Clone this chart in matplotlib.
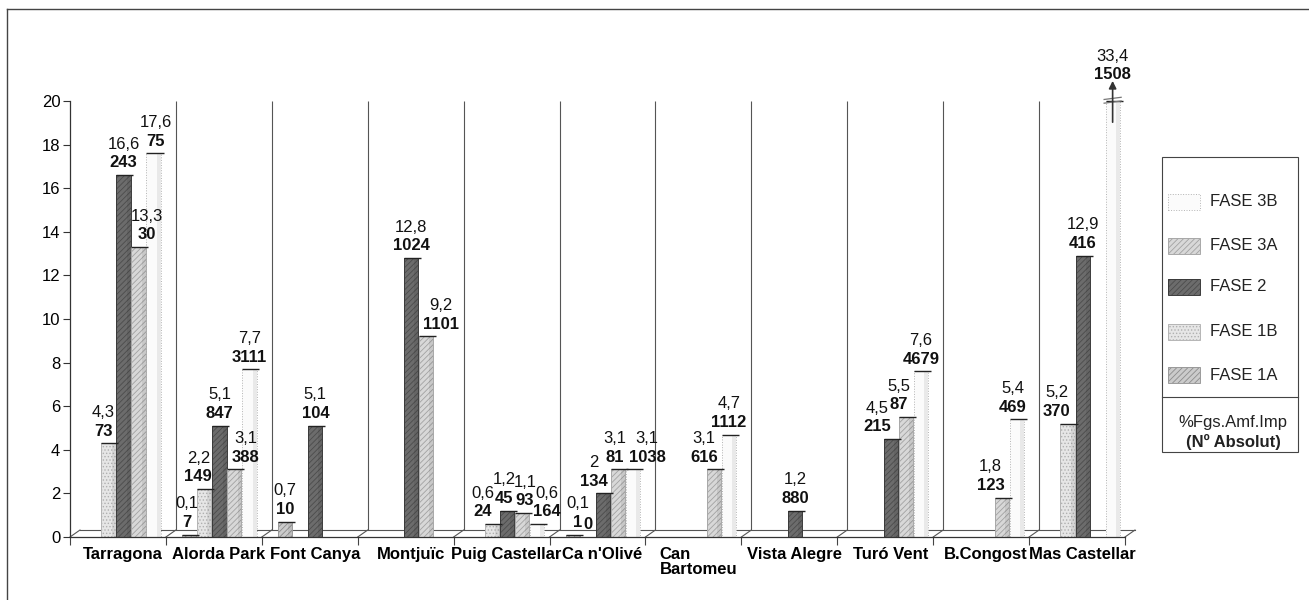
import matplotlib.pyplot as plt
from matplotlib.patches import Rectangle
from matplotlib.lines import Line2D

plt.rcParams['font.family'] = ['Liberation Sans', 'DejaVu Sans']
plt.rcParams['hatch.linewidth'] = 0.6

# Jaciments i fases
jaciments = ['Tarragona', 'Alorda Park', 'Font Canya', 'Montjuïc', 'Puig Castellar',
             "Ca n'Olivé", 'Can\nBartomeu', 'Vista Alegre', 'Turó Vent', 'B.Congost',
             'Mas Castellar']
fases = ['FASE 1A', 'FASE 1B', 'FASE 2', 'FASE 3A', 'FASE 3B']

# % de fragments d'àmfora importada (None = sense dades)
pct_1a = [None, 0.1, 0.7, None, None, 0.1, None, None, None, None, None]
pct_1b = [4.3, 2.2, None, None, 0.6, 0, None, None, None, None, 5.2]
pct_2 = [16.6, 5.1, 5.1, 12.8, 1.2, 2, None, 1.2, 4.5, None, 12.9]
pct_3a = [13.3, 3.1, None, 9.2, 1.1, 3.1, 3.1, None, 5.5, 1.8, None]
pct_3b = [17.6, 7.7, None, None, 0.6, 3.1, 4.7, None, 7.6, 5.4, 33.4]

# nombre absolut
abs_1a = [None, 7, 10, None, None, 1, None, None, None, None, None]
abs_1b = [73, 149, None, None, 24, 0, None, None, None, None, 370]
abs_2 = [243, 847, 104, 1024, 45, 134, None, 880, 215, None, 416]
abs_3a = [30, 388, None, 1101, 93, 81, 616, None, 87, 123, None]
abs_3b = [75, 3111, None, None, 164, 1038, 1112, None, 4679, 469, 1508]

pcts = [pct_1a, pct_1b, pct_2, pct_3a, pct_3b]
absols = [abs_1a, abs_1b, abs_2, abs_3a, abs_3b]

# desplaçament horitzontal (px) d'algunes etiquetes, (jaciment, fase)
despl = {(0, 1): -5, (0, 3): 8, (0, 4): 2,
         (1, 0): -3, (1, 1): -6, (1, 3): 11,
         (3, 3): 15,
         (4, 1): -9, (4, 2): -3, (4, 3): 3, (4, 4): 10,
         (5, 0): 5, (5, 2): -9, (5, 3): -3, (5, 4): 14,
         (6, 3): -10,
         (8, 2): -14, (8, 3): -7,
         (9, 3): -11, (9, 4): -4,
         (10, 1): -11}

estils = {
    'FASE 1A': dict(fc='#cbcbcb', hatch='//////', hc='#8c8c8c', ec='#9a9a9a', ls='-'),
    'FASE 1B': dict(fc='#e6e6e6', hatch='.....', hc='#b0b0b0', ec='#b5b5b5', ls='-'),
    'FASE 2': dict(fc='#6c6c6c', hatch='//////', hc='#4c4c4c', ec='#3a3a3a', ls='-'),
    'FASE 3A': dict(fc='#d8d8d8', hatch='//////', hc='#a2a2a2', ec='#a8a8a8', ls='-'),
    'FASE 3B': dict(fc='#fbfbfb', hatch='', hc='#c8c8c8', ec='#b4b4b4', ls=':'),
}

W, H = 1309, 600
YMAX = 20
centres = [0.245, 0.401, 0.558, 0.714, 0.871]
amplada = 0.148
dx, dy = 0.104, 0.32   # fons del terra en perspectiva


def fx(px):
    return px / W


def fy(py):
    return 1 - py / H


def fmt(v):
    return f'{v:g}'.replace('.', ',')


fig = plt.figure(figsize=(W / 100, H / 100), dpi=100)
ax = fig.add_axes([fx(70), fy(537), fx(1125) - fx(70), fy(101) - fy(537)])
ax.set_xlim(0, 11)
ax.set_ylim(0, YMAX)

# terra i parets
n = len(jaciments)
ax.plot([dx, n + dx], [dy, dy], color='#555', lw=0.8, zorder=1, clip_on=False)
for k in range(n + 1):
    ax.plot([k, k + dx], [0, dy], color='#555', lw=0.8, zorder=1, clip_on=False)
ax.vlines([k + dx for k in range(1, n + 1)], dy, YMAX, color='#555', lw=0.8, zorder=1)
ax.plot([0, n], [0, 0], color='#333', lw=0.9, zorder=8, clip_on=False)

# barres
for j, fase in enumerate(fases):
    st = estils[fase]
    xs = [i + centres[j] for i, v in enumerate(pcts[j]) if v is not None]
    hs = [min(v, YMAX) for v in pcts[j] if v is not None]
    ax.bar(xs, hs, amplada, color=st['fc'], edgecolor='none', zorder=3, clip_on=False)
    if st['hatch']:
        ax.bar(xs, hs, amplada, fill=False, hatch=st['hatch'], edgecolor=st['hc'],
               lw=0, zorder=4, clip_on=False)
    ax.bar(xs, hs, amplada, fill=False, edgecolor=st['ec'], lw=0.7, ls=st['ls'],
           zorder=4, clip_on=False)
    # ombra lateral (cilindre)
    ax.bar([x + amplada * 0.36 for x in xs], hs, amplada * 0.28, color='k', alpha=0.07,
           edgecolor='none', zorder=4, clip_on=False)
    # vora superior
    tops = [(x, h) for x, h in zip(xs, hs) if h > 0]
    ax.hlines([h for _, h in tops], [x - amplada / 2 for x, _ in tops],
              [x + amplada / 2 + 0.03 for x, _ in tops], color='#222', lw=1.0,
              zorder=5, clip_on=False)

    for i, (p, a) in enumerate(zip(pcts[j], absols[j])):
        if p is None:
            continue
        xb = i + centres[j]
        top = min(p, YMAX)
        extra = 10 if p > YMAX else 0
        ox = despl.get((i, j), 0) * 0.72   # px -> punts
        ax.annotate(str(a), (xb, top), xytext=(ox, 5.5 + extra), textcoords='offset points',
                    ha='center', va='baseline', fontsize=12, fontweight='bold',
                    color='#111', annotation_clip=False, zorder=9)
        if p:
            ax.annotate(fmt(p), (xb, top), xytext=(ox, 19 + extra),
                        textcoords='offset points', ha='center', va='baseline',
                        fontsize=12, color='#111', annotation_clip=False, zorder=9)
        if p > YMAX:
            # barra tallada + fletxa
            for yy in (YMAX - 0.05, YMAX + 0.12):
                ax.plot([xb - amplada * 0.6, xb + amplada * 0.6], [yy - 0.05, yy + 0.05],
                        color='#777', lw=0.9, zorder=6, clip_on=False)
            ax.annotate('', xy=(xb, 21.05), xytext=(xb, 18.9),
                        arrowprops=dict(arrowstyle='-|>', color='#333', lw=1.2,
                                        mutation_scale=11),
                        annotation_clip=False, zorder=7)

# eixos
for s in ['top', 'right', 'bottom']:
    ax.spines[s].set_visible(False)
ax.spines['left'].set_color('#333')
ax.spines['left'].set_linewidth(0.9)
ax.set_yticks(range(0, YMAX + 1, 2))
ax.tick_params(axis='y', direction='out', length=5, width=0.8, color='#333',
               labelsize=12, pad=2)
ax.set_xticks(range(n + 1))
ax.set_xticklabels([''] * (n + 1))
ax.set_xticks([i + 0.5 + dx / 2 for i in range(n)], minor=True)
ax.set_xticklabels(jaciments, minor=True, fontsize=12, fontweight='bold',
                   va='top', linespacing=1.0)
for t in ax.get_xticklabels(minor=True):
    t.set_multialignment('left')
ax.tick_params(axis='x', which='major', direction='out', length=6, width=0.8, color='#444')
ax.tick_params(axis='x', which='minor', length=0, pad=7)

# llegenda
fig.add_artist(Rectangle((fx(1162), fy(452)), fx(1298) - fx(1162), fy(157) - fy(452),
                         transform=fig.transFigure, fill=False, ec='#444', lw=0.8))
fig.add_artist(Line2D([fx(1162), fx(1298)], [fy(397), fy(397)],
                      transform=fig.transFigure, color='#444', lw=0.8))
llegenda_y = {'FASE 3B': 202, 'FASE 3A': 246, 'FASE 2': 287, 'FASE 1B': 332, 'FASE 1A': 375}
for fase in reversed(fases):
    st = estils[fase]
    yc = llegenda_y[fase]
    r = (fx(1168), fy(yc + 8))
    w, h = fx(1200) - fx(1168), fy(yc - 8) - fy(yc + 8)
    fig.add_artist(Rectangle(r, w, h, transform=fig.transFigure, fc=st['fc'], ec='none'))
    if st['hatch']:
        fig.add_artist(Rectangle(r, w, h, transform=fig.transFigure, fill=False,
                                 hatch=st['hatch'], ec=st['hc'], lw=0))
    fig.add_artist(Rectangle(r, w, h, transform=fig.transFigure, fill=False,
                             ec=st['ec'], lw=0.7, ls=st['ls']))
    fig.text(fx(1210), fy(yc), fase, fontsize=12, va='center', ha='left', color='#222')
fig.text(fx(1233), fy(423), '%Fgs.Amf.Imp', fontsize=12, ha='center', va='center',
         color='#222')
fig.text(fx(1233), fy(442), '(Nº Absolut)', fontsize=12, fontweight='bold',
         ha='center', va='center', color='#222')

# marc exterior
fig.add_artist(Line2D([fx(7), fx(7)], [fy(9), 0], transform=fig.transFigure,
                      color='#444', lw=1.0))
fig.add_artist(Line2D([fx(7), 1], [fy(9), fy(9)], transform=fig.transFigure,
                      color='#444', lw=1.0))

fig.savefig('out.png', dpi=100)
